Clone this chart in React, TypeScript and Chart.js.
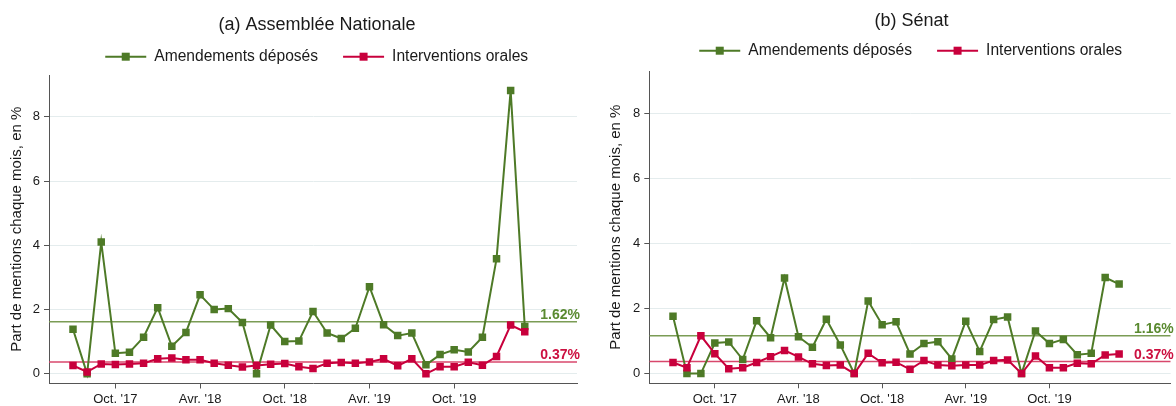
import React, { useEffect, useRef } from 'react';
import { Chart, registerables } from 'chart.js';

Chart.register(...registerables);

const FONT = "'Liberation Sans', Arial, Helvetica, sans-serif";
Chart.defaults.font.family = FONT;

// ---- data ----
const months = [
  '2017-07', '2017-08', '2017-09', '2017-10', '2017-11', '2017-12',
  '2018-01', '2018-02', '2018-03', '2018-04', '2018-05', '2018-06',
  '2018-07', '2018-08', '2018-09', '2018-10', '2018-11', '2018-12',
  '2019-01', '2019-02', '2019-03', '2019-04', '2019-05', '2019-06',
  '2019-07', '2019-08', '2019-09', '2019-10', '2019-11', '2019-12',
  '2020-01', '2020-02', '2020-03',
];
const xTickPositions = [3, 9, 15, 21, 27];
const xTickLabels = ["Oct. '17", "Avr. '18", "Oct. '18", "Avr. '19", "Oct. '19"];
const yTickValues = [0, 2, 4, 6, 8];
const seriesNames = ['Amendements déposés', 'Interventions orales'];
const panelTitles = ['(a) Assemblée Nationale', '(b) Sénat'];
const yAxisTitle = 'Part de mentions chaque mois, en %';

const anAmendements = [
  1.39, 0.0, 4.1, 0.64, 0.67, 1.14,
  2.06, 0.86, 1.29, 2.46, 2.0, 2.03,
  1.6, 0.0, 1.52, 1.01, 1.02, 1.94,
  1.27, 1.1, 1.42, 2.71, 1.53, 1.19,
  1.27, 0.28, 0.6, 0.75, 0.68, 1.14,
  3.58, 8.82, 1.47,
];
const anInterventions = [
  0.26, 0.06, 0.31, 0.29, 0.31, 0.33,
  0.47, 0.49, 0.44, 0.44, 0.33, 0.27,
  0.21, 0.26, 0.3, 0.32, 0.22, 0.17,
  0.33, 0.35, 0.33, 0.37, 0.47, 0.25,
  0.47, 0.0, 0.22, 0.22, 0.36, 0.27,
  0.54, 1.52, 1.31,
];
const anMeans = [1.62, 0.37];

const senAmendements = [
  1.76, 0.0, 0.0, 0.94, 0.97, 0.43,
  1.62, 1.1, 2.94, 1.13, 0.81, 1.67,
  0.88, 0.0, 2.23, 1.5, 1.59, 0.6,
  0.92, 0.98, 0.45, 1.61, 0.68, 1.66,
  1.74, 0.0, 1.31, 0.92, 1.05, 0.58,
  0.62, 2.95, 2.75,
];
const senInterventions = [
  0.34, 0.18, 1.16, 0.61, 0.15, 0.18,
  0.34, 0.52, 0.71, 0.51, 0.3, 0.25,
  0.26, 0.0, 0.62, 0.33, 0.35, 0.13,
  0.4, 0.26, 0.24, 0.26, 0.26, 0.4,
  0.42, 0.0, 0.54, 0.18, 0.18, 0.32,
  0.3, 0.57, 0.6,
];
const senMeans = [1.16, 0.37];

// ---- styles ----
const X_MIN = -1.7;
const X_MAX = 35.7;
const Y_MIN = -0.3;
const Y_MAX = 9.3;
const GREEN = '#4e7a27';
const GREEN_MEAN = '#7b9c55';
const GREEN_LABEL = '#5a8a30';
const RED = '#c8003c';
const RED_MEAN = '#d8476c';
const RED_LABEL = '#cc1040';
const GRID = '#e4eced';
const AXIS = '#555555';
const TEXT = '#1a1a1a';

const decorPlugin = {
  id: 'decor',
  afterDraw(chart: any, _args: any, opts: any) {
    const ctx = chart.ctx as CanvasRenderingContext2D;
    ctx.save();
    // title
    ctx.font = `18px ${FONT}`;
    ctx.fillStyle = TEXT;
    ctx.textAlign = 'center';
    ctx.textBaseline = 'middle';
    ctx.fillText(opts.title, opts.titleX, opts.titleY);
    // legend
    ctx.font = `15.6px ${FONT}`;
    const items = opts.legend as { text: string; color: string }[];
    const symW = 41, gap = 8, itemGap = 25;
    const widths = items.map((it) => symW + gap + ctx.measureText(it.text).width);
    const total = widths.reduce((a, b) => a + b, 0) + itemGap * (items.length - 1);
    let x = opts.legendX - total / 2;
    const y = opts.legendY;
    items.forEach((it, i) => {
      ctx.strokeStyle = it.color;
      ctx.lineWidth = 2;
      ctx.beginPath();
      ctx.moveTo(x, y);
      ctx.lineTo(x + symW, y);
      ctx.stroke();
      ctx.fillStyle = it.color;
      ctx.fillRect(x + symW / 2 - 4, y - 4, 8, 8);
      ctx.fillStyle = TEXT;
      ctx.textAlign = 'left';
      ctx.textBaseline = 'middle';
      ctx.fillText(it.text, x + symW + gap, y);
      x += widths[i] + itemGap;
    });
    // mean labels
    const yScale = chart.scales.y;
    ctx.font = `bold 14px ${FONT}`;
    ctx.textAlign = 'right';
    ctx.textBaseline = 'alphabetic';
    (opts.means as { value: number; color: string }[]).forEach((m) => {
      const py = yScale.getPixelForValue(m.value);
      ctx.fillStyle = m.color;
      ctx.fillText(m.value.toFixed(2) + '%', chart.chartArea.right + 3, py - 3);
    });
    ctx.restore();
  },
};

type PanelProps = {
  width: number;
  left: number;
  title: string;
  amend: number[];
  interv: number[];
  means: number[];
  layout: {
    axisWidth: number;
    top: number;
    right: number;
    bottom: number;
    titleX: number;
    titleY: number;
    legendX: number;
    legendY: number;
    yTitlePad: number;
  };
};

const HEIGHT = 406;
const X_AXIS_HEIGHT = 20;

function Panel({ width, left, title, amend, interv, means, layout }: PanelProps) {
  const ref = useRef<HTMLCanvasElement | null>(null);
  useEffect(() => {
    if (!ref.current) return;
    const xy = (arr: number[]) => arr.map((v, i) => ({ x: i, y: v }));
    const flat = (v: number) => [
      { x: X_MIN, y: v },
      { x: X_MAX, y: v },
    ];
    const chart = new Chart(ref.current, {
      type: 'line',
      data: {
        datasets: [
          {
            label: seriesNames[1],
            data: xy(interv),
            borderColor: RED,
            backgroundColor: RED,
            borderWidth: 2,
            pointStyle: 'rect',
            pointRadius: 5.3,
            pointBorderWidth: 0,
            pointBackgroundColor: RED,
            order: 0,
          },
          {
            label: seriesNames[0],
            data: xy(amend),
            borderColor: GREEN,
            backgroundColor: GREEN,
            borderWidth: 2,
            pointStyle: 'rect',
            pointRadius: 5.3,
            pointBorderWidth: 0,
            pointBackgroundColor: GREEN,
            order: 1,
          },
          {
            label: 'mean1',
            data: flat(means[0]),
            borderColor: GREEN_MEAN,
            borderWidth: 1.6,
            pointRadius: 0,
            order: 2,
          },
          {
            label: 'mean2',
            data: flat(means[1]),
            borderColor: RED_MEAN,
            borderWidth: 1.6,
            pointRadius: 0,
            order: 3,
          },
        ],
      } as any,
      options: {
        animation: false,
        responsive: false,
        events: [],
        layout: {
          padding: {
            left: 0,
            top: layout.top,
            right: width - layout.right,
            bottom: HEIGHT - layout.bottom - X_AXIS_HEIGHT,
          },
        },
        plugins: {
          legend: { display: false },
          tooltip: { enabled: false },
          decor: {
            title,
            titleX: layout.titleX,
            titleY: layout.titleY,
            legendX: layout.legendX,
            legendY: layout.legendY,
            legend: [
              { text: seriesNames[0], color: GREEN },
              { text: seriesNames[1], color: RED },
            ],
            means: [
              { value: means[0], color: GREEN_LABEL },
              { value: means[1], color: RED_LABEL },
            ],
          },
        } as any,
        scales: {
          x: {
            type: 'linear',
            min: X_MIN,
            max: X_MAX,
            afterBuildTicks: (s: any) => {
              s.ticks = xTickPositions.map((v) => ({ value: v }));
            },
            afterFit: (s: any) => {
              s.height = X_AXIS_HEIGHT;
            },
            ticks: {
              autoSkip: false,
              maxRotation: 0,
              padding: 3,
              color: TEXT,
              font: { size: 13 },
              callback: (_v: any, i: number) => xTickLabels[i],
            },
            grid: {
              drawOnChartArea: false,
              drawTicks: true,
              tickLength: 5,
              tickColor: AXIS,
            },
            border: { color: AXIS, width: 1 },
          },
          y: {
            type: 'linear',
            min: Y_MIN,
            max: Y_MAX,
            afterBuildTicks: (s: any) => {
              s.ticks = yTickValues.map((v) => ({ value: v }));
            },
            afterFit: (s: any) => {
              s.width = layout.axisWidth;
            },
            ticks: {
              padding: 4,
              color: TEXT,
              font: { size: 13 },
              callback: (v: any) => String(v),
            },
            grid: {
              color: GRID,
              lineWidth: 1,
              drawTicks: true,
              tickLength: 5,
              tickColor: AXIS,
            },
            border: { color: AXIS, width: 1 },
            title: {
              display: true,
              text: yAxisTitle,
              color: TEXT,
              font: { size: 15 },
              padding: { top: layout.yTitlePad, bottom: 0 },
            },
          },
        } as any,
      },
      plugins: [decorPlugin as any],
    });
    return () => chart.destroy();
  }, []);
  return (
    <canvas
      ref={ref}
      width={width}
      height={HEIGHT}
      style={{ position: 'absolute', left, top: 0, width, height: HEIGHT }}
    />
  );
}

export default function App() {
  return (
    <div
      style={{
        position: 'fixed',
        left: 0,
        top: 0,
        width: 1176,
        height: HEIGHT,
        background: '#ffffff',
        overflow: 'hidden',
      }}
    >
      <Panel
        width={590}
        left={0}
        title={panelTitles[0]}
        amend={anAmendements}
        interv={anInterventions}
        means={anMeans}
        layout={{
          axisWidth: 49,
          top: 75,
          right: 577,
          bottom: 383.5,
          titleX: 317,
          titleY: 25,
          legendX: 316.7,
          legendY: 56.7,
          yTitlePad: 8,
        }}
      />
      <Panel
        width={576}
        left={600}
        title={panelTitles[1]}
        amend={senAmendements}
        interv={senInterventions}
        means={senMeans}
        layout={{
          axisWidth: 49.3,
          top: 71,
          right: 572.7,
          bottom: 383.3,
          titleX: 311.5,
          titleY: 20.7,
          legendX: 310.7,
          legendY: 50.7,
          yTitlePad: 7,
        }}
      />
    </div>
  );
}
